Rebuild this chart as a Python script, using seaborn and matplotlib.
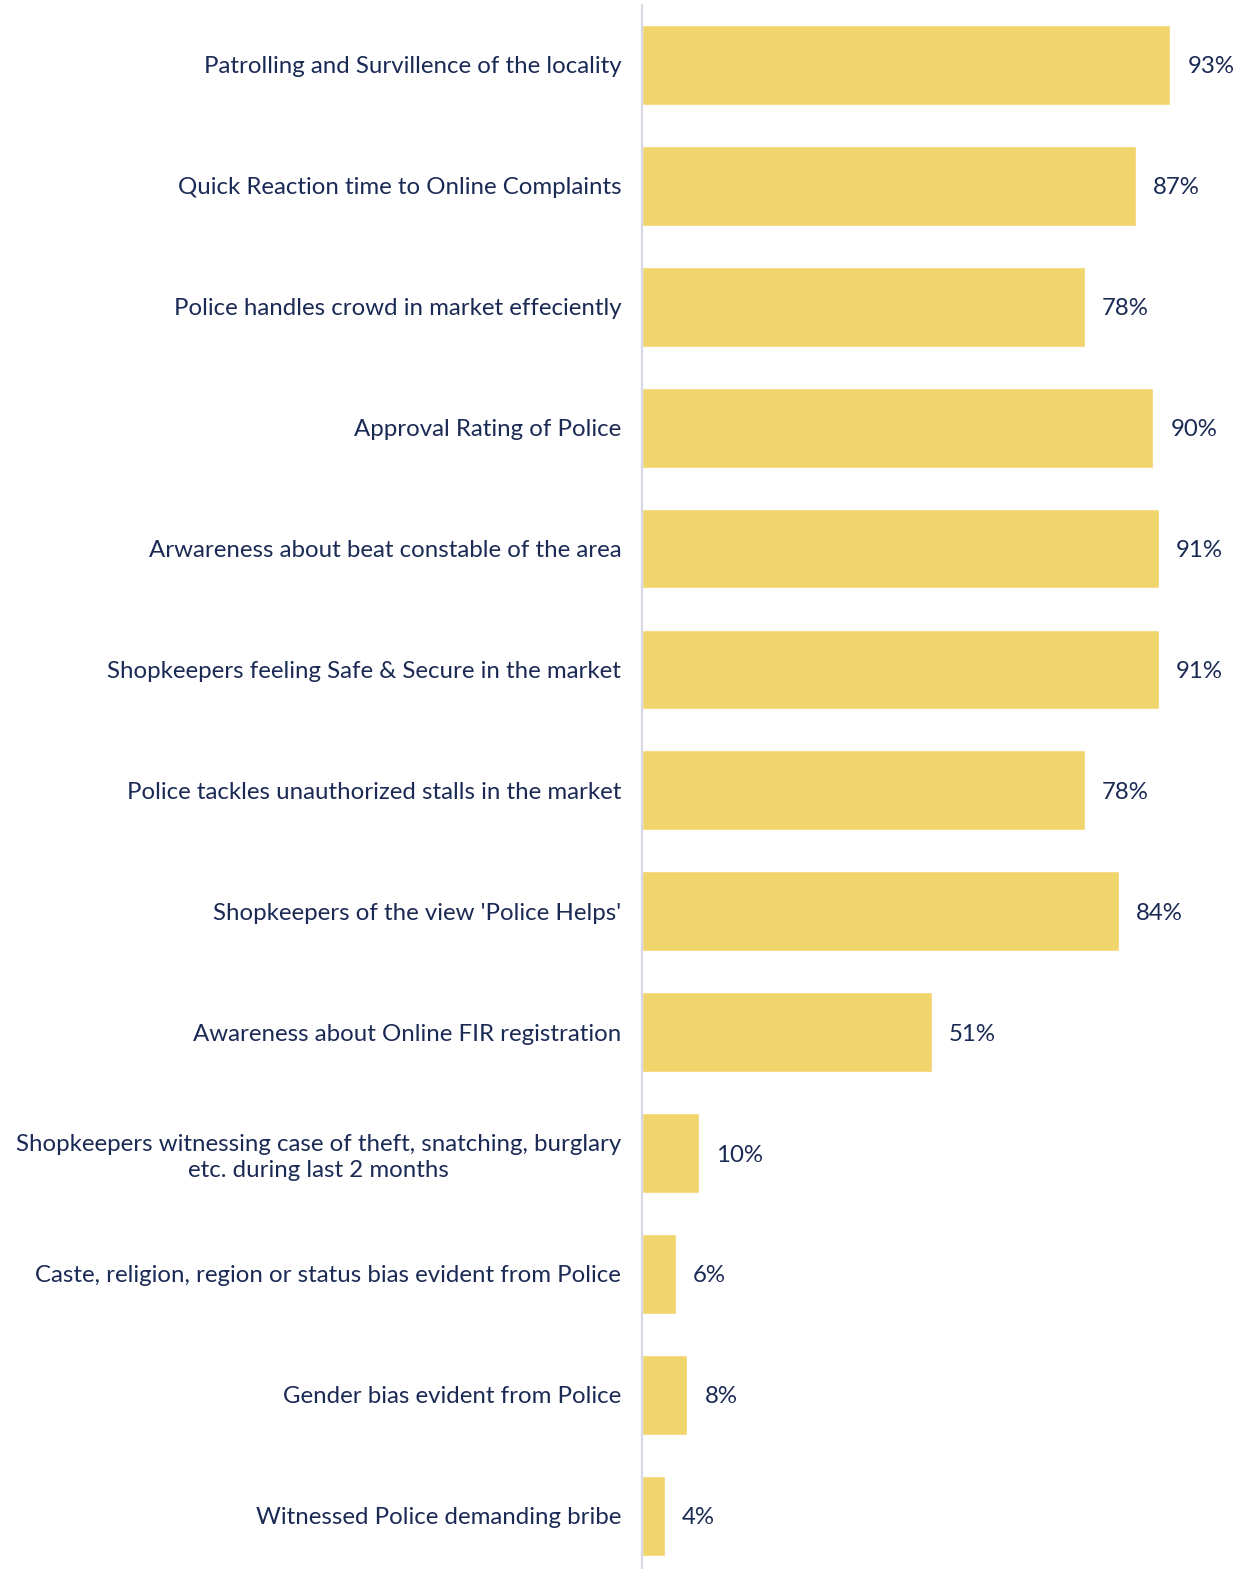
import matplotlib
matplotlib.use("Agg")
import matplotlib.pyplot as plt
import seaborn as sns
import pandas as pd

categories = [
    "Patrolling and Survillence of the locality",
    "Quick Reaction time to Online Complaints",
    "Police handles crowd in market effeciently",
    "Approval Rating of Police",
    "Arwareness about beat constable of the area",
    "Shopkeepers feeling Safe & Secure in the market",
    "Police tackles unauthorized stalls in the market",
    "Shopkeepers of the view 'Police Helps'",
    "Awareness about Online FIR registration",
    "Shopkeepers witnessing case of theft, snatching, burglary\netc. during last 2 months",
    "Caste, religion, region or status bias evident from Police",
    "Gender bias evident from Police",
    "Witnessed Police demanding bribe",
]
values = [93, 87, 78, 90, 91, 91, 78, 84, 51, 10, 6, 8, 4]

BAR = "#f1d46b"
TEXT = "#1b2a55"
AXIS = "#d9d9e6"

sns.set_theme(style="white")
plt.rcParams["font.family"] = ["Lato", "DejaVu Sans"]

df = pd.DataFrame({"item": categories, "pct": values})

fig = plt.figure(figsize=(12.42, 15.69), dpi=100)
ax = fig.add_axes([642 / 1242, 0, 600 / 1242, 1 - 5 / 1569])

sns.barplot(data=df, y="item", x="pct", color=BAR, width=0.66,
            saturation=1, ax=ax, orient="h")

ax.set_xlim(0, 105.6)
ax.set_ylim(12.44, -0.496)
ax.set_xlabel("")
ax.set_ylabel("")
ax.set_xticks([])
for s in ["top", "right", "bottom"]:
    ax.spines[s].set_visible(False)
ax.spines["left"].set_color(AXIS)
ax.spines["left"].set_linewidth(1.6)

ax.tick_params(axis="y", length=0, pad=15)
ax.set_yticks(range(len(categories)))
ax.set_yticklabels(categories, fontsize=17.3, color=TEXT, ha="right",
                   multialignment="center", linespacing=1.3)

for i, v in enumerate(values):
    ax.text(v + 3.0, i, f"{v}%", va="center_baseline", ha="left",
            fontsize=17.3, color=TEXT)

fig.savefig("out.png", dpi=100)
